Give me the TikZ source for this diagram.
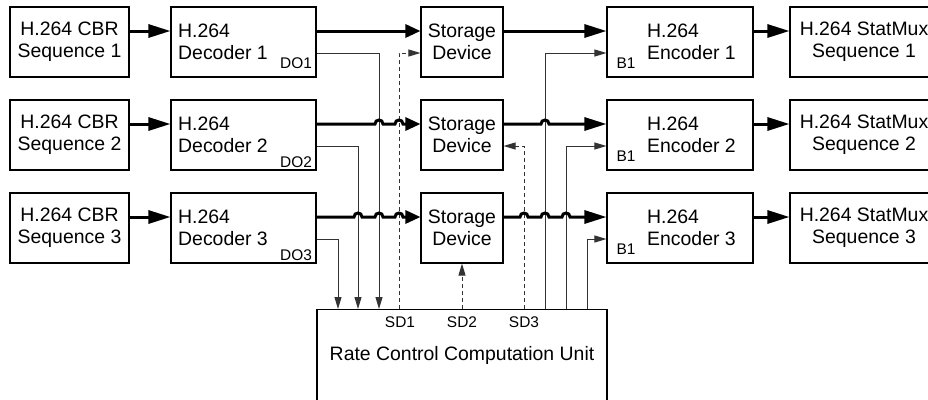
\documentclass[tikz,border=0pt]{standalone}
\usepackage{fontspec}
\setmainfont{Liberation Sans}
\usetikzlibrary{arrows.meta}
\begin{document}
\begin{tikzpicture}[x=1bp,y=-1bp,
  box/.style={draw, line width=1.1bp, minimum width=#1, minimum height=70bp, inner sep=0pt, anchor=center},
  txt/.style={font=\fontsize{19.5}{22}\selectfont, inner sep=0pt, align=center},
  small/.style={font=\fontsize{15.5}{18}\selectfont, inner sep=0pt},
  big/.style={line width=3bp, -{Triangle[length=22bp,width=13bp]}},
  bigs/.style={line width=3bp, -{Triangle[length=15bp,width=13bp]}},
  thinarr/.style={line width=1bp, draw=black!80, -{Triangle[length=12bp,width=7bp]}},
  dsh/.style={thinarr, dash pattern=on 4bp off 3bp}]
\useasboundingbox (0,0) rectangle (928,399);
\foreach \i/\y in {1/42,2/135,3/228}{
  \node[box=119bp, txt] (seq\i) at (69.5,\y) {H.264 CBR\\Sequence \i};
  \node[box=145bp] (dec\i) at (243.5,\y) {};
  \node[txt, align=left, anchor=west] (dect\i) at (178,\y) {H.264\\Decoder \i};
  \node[box=82bp, txt] (stor\i) at (462,\y) {Storage\\Device};
  \node[box=146bp] (enc\i) at (680,\y) {};
  \node[txt, align=left, anchor=west] (enct\i) at (647,\y) {H.264\\Encoder \i};
  \node[box=148bp, txt] (mux\i) at (864,\y) {H.264 StatMux\\Sequence \i};
  \node[small] (b\i) at (626,\y+21) {B1};
  \draw[big] ([yshift=11bp]seq\i.east) -- ([yshift=11bp]dec\i.west);
  \draw[big] ([yshift=11bp]enc\i.east) -- ([yshift=11bp]mux\i.west);
}
\node[small] (do1) at (296,63) {DO1};
\node[small] (do2) at (296,162) {DO2};
\node[small] (do3) at (296,255) {DO3};

\node[draw, line width=1.1bp, minimum width=290bp, minimum height=130bp, inner sep=0pt, anchor=north] (rccu) at (462,309) {};
\node[small] (sd1) at (400,322) {SD1};
\node[small] (sd2) at (462,322) {SD2};
\node[small] (sd3) at (524,322) {SD3};
\node[txt] (rcl) at (462,355) {Rate Control Computation Unit};

% x positions of vertical connectors
\coordinate (x338) at (338,0);
\coordinate (x358) at (358,0);
\coordinate (x379) at (379,0);
\coordinate (x399) at (399,0);
\coordinate (x524) at (524,0);
\coordinate (x545) at (545,0);
\coordinate (x566) at (566,0);
\coordinate (x587) at (587,0);

% thin connectors
\draw[thinarr] ([yshift=-11bp]dec1.east) -| (x379 |- rccu.north);
\draw[thinarr] ([yshift=-11bp]dec2.east) -| (x358 |- rccu.north);
\draw[thinarr] ([yshift=-11bp]dec3.east) -| (x338 |- rccu.north);
\draw[dsh] (x399 |- rccu.north) |- ([yshift=-11bp]stor1.west);
\draw[dsh] (rccu.north) -- (stor3.south);
\draw[dsh] (x524 |- rccu.north) |- ([yshift=-11bp]stor2.east);
\draw[thinarr] (x545 |- rccu.north) |- ([yshift=-11bp]enc1.west);
\draw[thinarr] (x566 |- rccu.north) |- ([yshift=-11bp]enc2.west);
\draw[thinarr] (x587 |- rccu.north) |- ([yshift=-11bp]enc3.west);

% thick data lines with hops
\draw[bigs] ([yshift=11bp]dec1.east) -- ([yshift=11bp]stor1.west);
\draw[big] ([yshift=11bp]stor1.east) -- ([yshift=11bp]enc1.west);

\draw[bigs] ([yshift=11bp]dec2.east) -- (375,124)
  .. controls (375,118.7) and (383,118.7) .. (383,124) -- (395,124)
  .. controls (395,118.7) and (403,118.7) .. (403,124) -- ([yshift=11bp]stor2.west);
\draw[big] ([yshift=11bp]stor2.east) -- (541,124)
  .. controls (541,118.7) and (549,118.7) .. (549,124) -- ([yshift=11bp]enc2.west);

\draw[bigs] ([yshift=11bp]dec3.east) -- (354,217)
  .. controls (354,211.7) and (362,211.7) .. (362,217) -- (375,217)
  .. controls (375,211.7) and (383,211.7) .. (383,217) -- (395,217)
  .. controls (395,211.7) and (403,211.7) .. (403,217) -- ([yshift=11bp]stor3.west);
\draw[big] ([yshift=11bp]stor3.east) -- (520,217)
  .. controls (520,211.7) and (528,211.7) .. (528,217) -- (541,217)
  .. controls (541,211.7) and (549,211.7) .. (549,217) -- (562,217)
  .. controls (562,211.7) and (570,211.7) .. (570,217) -- ([yshift=11bp]enc3.west);
\end{tikzpicture}
\end{document}
